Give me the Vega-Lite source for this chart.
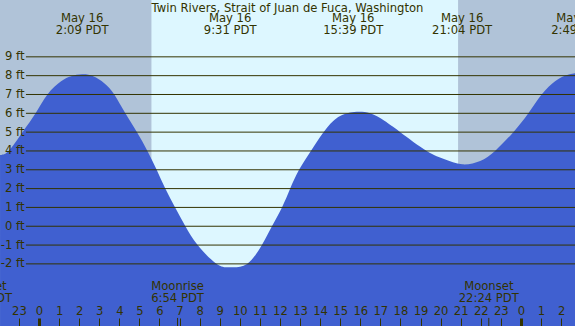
{
  "$schema": "https://vega.github.io/schema/vega-lite/v6.json",
  "width": 575,
  "height": 326,
  "autosize": {"type": "none"},
  "padding": 0,
  "background": "#b0c3d8",
  "title": {
    "text": "Twin Rivers, Strait of Juan de Fuca, Washington",
    "anchor": "middle",
    "offset": -14.5,
    "font": "DejaVu Sans",
    "fontSize": 11.6,
    "fontWeight": "normal",
    "color": "#333300"
  },
  "config": {
    "view": {"stroke": null},
    "text": {"font": "DejaVu Sans", "fontSize": 11.6, "color": "#333300"}
  },
  "datasets": {
    "tide": [
      {"t": -1.94, "ft": 3.79}, {"t": -1.52, "ft": 4.0}, {"t": -0.82, "ft": 5.0},
      {"t": -0.17, "ft": 6.0}, {"t": 0.42, "ft": 7.0}, {"t": 1.1, "ft": 7.7},
      {"t": 1.6, "ft": 7.97}, {"t": 2.15, "ft": 8.07}, {"t": 2.7, "ft": 7.97},
      {"t": 3.25, "ft": 7.6}, {"t": 3.75, "ft": 7.0}, {"t": 4.3, "ft": 6.0},
      {"t": 4.88, "ft": 5.0}, {"t": 5.4, "ft": 4.0}, {"t": 5.86, "ft": 3.0},
      {"t": 6.29, "ft": 2.0}, {"t": 6.78, "ft": 1.0}, {"t": 7.29, "ft": 0.0},
      {"t": 7.9, "ft": -1.0}, {"t": 8.85, "ft": -2.0}, {"t": 9.55, "ft": -2.18},
      {"t": 10.36, "ft": -2.0}, {"t": 11.1, "ft": -1.0}, {"t": 11.6, "ft": 0.0},
      {"t": 12.1, "ft": 1.0}, {"t": 12.51, "ft": 2.0}, {"t": 12.95, "ft": 3.0},
      {"t": 13.54, "ft": 4.0}, {"t": 14.17, "ft": 5.0}, {"t": 14.9, "ft": 5.8},
      {"t": 15.7, "ft": 6.07}, {"t": 16.49, "ft": 6.0}, {"t": 17.2, "ft": 5.6},
      {"t": 17.99, "ft": 5.0}, {"t": 19.31, "ft": 4.0}, {"t": 20.2, "ft": 3.56},
      {"t": 21.07, "ft": 3.29}, {"t": 21.97, "ft": 3.47}, {"t": 22.71, "ft": 4.0},
      {"t": 23.62, "ft": 5.0}, {"t": 24.37, "ft": 6.0}, {"t": 25.03, "ft": 7.0},
      {"t": 25.7, "ft": 7.7}, {"t": 26.19, "ft": 8.0}, {"t": 26.82, "ft": 8.15}
    ],
    "light": [
      {"s": -1.94, "e": 5.6, "kind": "night"},
      {"s": 5.6, "e": 20.88, "kind": "day"},
      {"s": 20.88, "e": 26.7, "kind": "night"}
    ],
    "levels": [
      {"ft": -2}, {"ft": -1}, {"ft": 0}, {"ft": 1}, {"ft": 2}, {"ft": 3},
      {"ft": 4}, {"ft": 5}, {"ft": 6}, {"ft": 7}, {"ft": 8}, {"ft": 9}
    ],
    "extrema": [
      {"t": 2.15, "date": "May 16", "time": "2:09 PDT"},
      {"t": 9.52, "date": "May 16", "time": "9:31 PDT"},
      {"t": 15.65, "date": "May 16", "time": "15:39 PDT"},
      {"t": 21.07, "date": "May 16", "time": "21:04 PDT"},
      {"t": 26.82, "date": "May 17", "time": "2:49 PDT"}
    ],
    "moon": [
      {"t": -2.84, "event": "Moonset", "time": "21:10 PDT"},
      {"t": 6.9, "event": "Moonrise", "time": "6:54 PDT"},
      {"t": 22.4, "event": "Moonset", "time": "22:24 PDT"}
    ]
  },
  "layer": [
    {
      "data": {"name": "light"},
      "mark": {"type": "rect", "clip": true},
      "encoding": {
        "x": {"field": "s", "type": "quantitative", "scale": {"domain": [-1.942, 26.693], "nice": false, "zero": false},
          "axis": {"orient": "top", "offset": -326, "zindex": 2, "values": [-2, -1, 0, 1, 2, 3, 4, 5, 6, 7, 8, 9, 10, 11, 12, 13, 14, 15, 16, 17, 18, 19, 20, 21, 22, 23, 24, 25, 26], "labelExpr": "'' + ((datum.value + 24) % 24)", "tickSize": 8, "tickColor": "#333300", "tickWidth": {"condition": {"test": "datum.value % 24 === 0", "value": 3}, "value": 1}, "domain": false, "grid": false, "title": null, "labelFont": "DejaVu Sans", "labelFontSize": 11.6, "labelColor": "#333300", "labelPadding": 2, "labelFlush": false, "labelOverlap": false, "labelBound": false}},
        "x2": {"field": "e"},
        "y": {"datum": 12.02, "type": "quantitative", "scale": {"domain": [-5.3, 12.02], "nice": false, "zero": false},
          "axis": {"orient": "left", "offset": -26, "zindex": 2, "values": [-2, -1, 0, 1, 2, 3, 4, 5, 6, 7, 8, 9], "labelExpr": "datum.value + ' ft'", "ticks": false, "tickSize": 0, "domain": false, "grid": false, "title": null, "labelFont": "DejaVu Sans", "labelFontSize": 11.6, "labelColor": "#333300", "labelPadding": 2, "labelOverlap": false, "labelFlush": false, "labelBound": false}},
        "y2": {"datum": -5.3},
        "color": {"field": "kind", "type": "nominal", "scale": {"domain": ["night", "day"], "range": ["#b0c3d8", "#ddf7ff"]}, "legend": null}
      }
    },
    {
      "data": {"name": "tide"},
      "mark": {"type": "area", "interpolate": "natural", "color": "#4060d0", "clip": true},
      "encoding": {
        "x": {"field": "t", "type": "quantitative", "scale": {"domain": [-1.942, 26.693], "nice": false, "zero": false},
          "axis": {"orient": "top", "offset": -326, "zindex": 2, "values": [-2, -1, 0, 1, 2, 3, 4, 5, 6, 7, 8, 9, 10, 11, 12, 13, 14, 15, 16, 17, 18, 19, 20, 21, 22, 23, 24, 25, 26], "labelExpr": "'' + ((datum.value + 24) % 24)", "tickSize": 8, "tickColor": "#333300", "tickWidth": {"condition": {"test": "datum.value % 24 === 0", "value": 3}, "value": 1}, "domain": false, "grid": false, "title": null, "labelFont": "DejaVu Sans", "labelFontSize": 11.6, "labelColor": "#333300", "labelPadding": 2, "labelFlush": false, "labelOverlap": false, "labelBound": false}},
        "y": {"field": "ft", "type": "quantitative", "scale": {"domain": [-5.3, 12.02], "nice": false, "zero": false},
          "axis": {"orient": "left", "offset": -26, "zindex": 2, "values": [-2, -1, 0, 1, 2, 3, 4, 5, 6, 7, 8, 9], "labelExpr": "datum.value + ' ft'", "ticks": false, "tickSize": 0, "domain": false, "grid": false, "title": null, "labelFont": "DejaVu Sans", "labelFontSize": 11.6, "labelColor": "#333300", "labelPadding": 2, "labelOverlap": false, "labelFlush": false, "labelBound": false}},
        "y2": {"datum": -5.3}
      }
    },
    {
      "data": {"name": "levels"},
      "mark": {"type": "rule", "color": "#333300", "strokeWidth": 1, "clip": true},
      "encoding": {
        "x": {"datum": -0.65, "type": "quantitative", "scale": {"domain": [-1.942, 26.693], "nice": false, "zero": false},
          "axis": {"orient": "top", "offset": -326, "zindex": 2, "values": [-2, -1, 0, 1, 2, 3, 4, 5, 6, 7, 8, 9, 10, 11, 12, 13, 14, 15, 16, 17, 18, 19, 20, 21, 22, 23, 24, 25, 26], "labelExpr": "'' + ((datum.value + 24) % 24)", "tickSize": 8, "tickColor": "#333300", "tickWidth": {"condition": {"test": "datum.value % 24 === 0", "value": 3}, "value": 1}, "domain": false, "grid": false, "title": null, "labelFont": "DejaVu Sans", "labelFontSize": 11.6, "labelColor": "#333300", "labelPadding": 2, "labelFlush": false, "labelOverlap": false, "labelBound": false}},
        "x2": {"datum": 26.7},
        "y": {"field": "ft", "type": "quantitative", "scale": {"domain": [-5.3, 12.02], "nice": false, "zero": false},
          "axis": {"orient": "left", "offset": -26, "zindex": 2, "values": [-2, -1, 0, 1, 2, 3, 4, 5, 6, 7, 8, 9], "labelExpr": "datum.value + ' ft'", "ticks": false, "tickSize": 0, "domain": false, "grid": false, "title": null, "labelFont": "DejaVu Sans", "labelFontSize": 11.6, "labelColor": "#333300", "labelPadding": 2, "labelOverlap": false, "labelFlush": false, "labelBound": false}}
      }
    },
    {
      "data": {"name": "extrema"},
      "mark": {"type": "text", "align": "center", "baseline": "middle"},
      "encoding": {
        "x": {"field": "t", "type": "quantitative", "scale": {"domain": [-1.942, 26.693], "nice": false, "zero": false},
          "axis": {"orient": "top", "offset": -326, "zindex": 2, "values": [-2, -1, 0, 1, 2, 3, 4, 5, 6, 7, 8, 9, 10, 11, 12, 13, 14, 15, 16, 17, 18, 19, 20, 21, 22, 23, 24, 25, 26], "labelExpr": "'' + ((datum.value + 24) % 24)", "tickSize": 8, "tickColor": "#333300", "tickWidth": {"condition": {"test": "datum.value % 24 === 0", "value": 3}, "value": 1}, "domain": false, "grid": false, "title": null, "labelFont": "DejaVu Sans", "labelFontSize": 11.6, "labelColor": "#333300", "labelPadding": 2, "labelFlush": false, "labelOverlap": false, "labelBound": false}},
        "y": {"datum": 10.99, "type": "quantitative", "scale": {"domain": [-5.3, 12.02], "nice": false, "zero": false},
          "axis": {"orient": "left", "offset": -26, "zindex": 2, "values": [-2, -1, 0, 1, 2, 3, 4, 5, 6, 7, 8, 9], "labelExpr": "datum.value + ' ft'", "ticks": false, "tickSize": 0, "domain": false, "grid": false, "title": null, "labelFont": "DejaVu Sans", "labelFontSize": 11.6, "labelColor": "#333300", "labelPadding": 2, "labelOverlap": false, "labelFlush": false, "labelBound": false}},
        "text": {"field": "date"}
      }
    },
    {
      "data": {"name": "extrema"},
      "mark": {"type": "text", "align": "center", "baseline": "middle"},
      "encoding": {
        "x": {"field": "t", "type": "quantitative", "scale": {"domain": [-1.942, 26.693], "nice": false, "zero": false},
          "axis": {"orient": "top", "offset": -326, "zindex": 2, "values": [-2, -1, 0, 1, 2, 3, 4, 5, 6, 7, 8, 9, 10, 11, 12, 13, 14, 15, 16, 17, 18, 19, 20, 21, 22, 23, 24, 25, 26], "labelExpr": "'' + ((datum.value + 24) % 24)", "tickSize": 8, "tickColor": "#333300", "tickWidth": {"condition": {"test": "datum.value % 24 === 0", "value": 3}, "value": 1}, "domain": false, "grid": false, "title": null, "labelFont": "DejaVu Sans", "labelFontSize": 11.6, "labelColor": "#333300", "labelPadding": 2, "labelFlush": false, "labelOverlap": false, "labelBound": false}},
        "y": {"datum": 10.35, "type": "quantitative", "scale": {"domain": [-5.3, 12.02], "nice": false, "zero": false},
          "axis": {"orient": "left", "offset": -26, "zindex": 2, "values": [-2, -1, 0, 1, 2, 3, 4, 5, 6, 7, 8, 9], "labelExpr": "datum.value + ' ft'", "ticks": false, "tickSize": 0, "domain": false, "grid": false, "title": null, "labelFont": "DejaVu Sans", "labelFontSize": 11.6, "labelColor": "#333300", "labelPadding": 2, "labelOverlap": false, "labelFlush": false, "labelBound": false}},
        "text": {"field": "time"}
      }
    },
    {
      "data": {"name": "moon"},
      "mark": {"type": "text", "align": "center", "baseline": "middle"},
      "encoding": {
        "x": {"field": "t", "type": "quantitative", "scale": {"domain": [-1.942, 26.693], "nice": false, "zero": false},
          "axis": {"orient": "top", "offset": -326, "zindex": 2, "values": [-2, -1, 0, 1, 2, 3, 4, 5, 6, 7, 8, 9, 10, 11, 12, 13, 14, 15, 16, 17, 18, 19, 20, 21, 22, 23, 24, 25, 26], "labelExpr": "'' + ((datum.value + 24) % 24)", "tickSize": 8, "tickColor": "#333300", "tickWidth": {"condition": {"test": "datum.value % 24 === 0", "value": 3}, "value": 1}, "domain": false, "grid": false, "title": null, "labelFont": "DejaVu Sans", "labelFontSize": 11.6, "labelColor": "#333300", "labelPadding": 2, "labelFlush": false, "labelOverlap": false, "labelBound": false}},
        "y": {"datum": -3.25, "type": "quantitative", "scale": {"domain": [-5.3, 12.02], "nice": false, "zero": false},
          "axis": {"orient": "left", "offset": -26, "zindex": 2, "values": [-2, -1, 0, 1, 2, 3, 4, 5, 6, 7, 8, 9], "labelExpr": "datum.value + ' ft'", "ticks": false, "tickSize": 0, "domain": false, "grid": false, "title": null, "labelFont": "DejaVu Sans", "labelFontSize": 11.6, "labelColor": "#333300", "labelPadding": 2, "labelOverlap": false, "labelFlush": false, "labelBound": false}},
        "text": {"field": "event"}
      }
    },
    {
      "data": {"name": "moon"},
      "mark": {"type": "text", "align": "center", "baseline": "middle"},
      "encoding": {
        "x": {"field": "t", "type": "quantitative", "scale": {"domain": [-1.942, 26.693], "nice": false, "zero": false},
          "axis": {"orient": "top", "offset": -326, "zindex": 2, "values": [-2, -1, 0, 1, 2, 3, 4, 5, 6, 7, 8, 9, 10, 11, 12, 13, 14, 15, 16, 17, 18, 19, 20, 21, 22, 23, 24, 25, 26], "labelExpr": "'' + ((datum.value + 24) % 24)", "tickSize": 8, "tickColor": "#333300", "tickWidth": {"condition": {"test": "datum.value % 24 === 0", "value": 3}, "value": 1}, "domain": false, "grid": false, "title": null, "labelFont": "DejaVu Sans", "labelFontSize": 11.6, "labelColor": "#333300", "labelPadding": 2, "labelFlush": false, "labelOverlap": false, "labelBound": false}},
        "y": {"datum": -3.84, "type": "quantitative", "scale": {"domain": [-5.3, 12.02], "nice": false, "zero": false},
          "axis": {"orient": "left", "offset": -26, "zindex": 2, "values": [-2, -1, 0, 1, 2, 3, 4, 5, 6, 7, 8, 9], "labelExpr": "datum.value + ' ft'", "ticks": false, "tickSize": 0, "domain": false, "grid": false, "title": null, "labelFont": "DejaVu Sans", "labelFontSize": 11.6, "labelColor": "#333300", "labelPadding": 2, "labelOverlap": false, "labelFlush": false, "labelBound": false}},
        "text": {"field": "time"}
      }
    },
    {
      "data": {"name": "moon"},
      "mark": {"type": "rule", "color": "#333300", "strokeWidth": 1, "clip": true},
      "encoding": {
        "x": {"field": "t", "type": "quantitative", "scale": {"domain": [-1.942, 26.693], "nice": false, "zero": false},
          "axis": {"orient": "top", "offset": -326, "zindex": 2, "values": [-2, -1, 0, 1, 2, 3, 4, 5, 6, 7, 8, 9, 10, 11, 12, 13, 14, 15, 16, 17, 18, 19, 20, 21, 22, 23, 24, 25, 26], "labelExpr": "'' + ((datum.value + 24) % 24)", "tickSize": 8, "tickColor": "#333300", "tickWidth": {"condition": {"test": "datum.value % 24 === 0", "value": 3}, "value": 1}, "domain": false, "grid": false, "title": null, "labelFont": "DejaVu Sans", "labelFontSize": 11.6, "labelColor": "#333300", "labelPadding": 2, "labelFlush": false, "labelOverlap": false, "labelBound": false}},
        "y": {"datum": -4.87, "type": "quantitative", "scale": {"domain": [-5.3, 12.02], "nice": false, "zero": false},
          "axis": {"orient": "left", "offset": -26, "zindex": 2, "values": [-2, -1, 0, 1, 2, 3, 4, 5, 6, 7, 8, 9], "labelExpr": "datum.value + ' ft'", "ticks": false, "tickSize": 0, "domain": false, "grid": false, "title": null, "labelFont": "DejaVu Sans", "labelFontSize": 11.6, "labelColor": "#333300", "labelPadding": 2, "labelOverlap": false, "labelFlush": false, "labelBound": false}},
        "y2": {"datum": -5.3}
      }
    }
  ]
}
